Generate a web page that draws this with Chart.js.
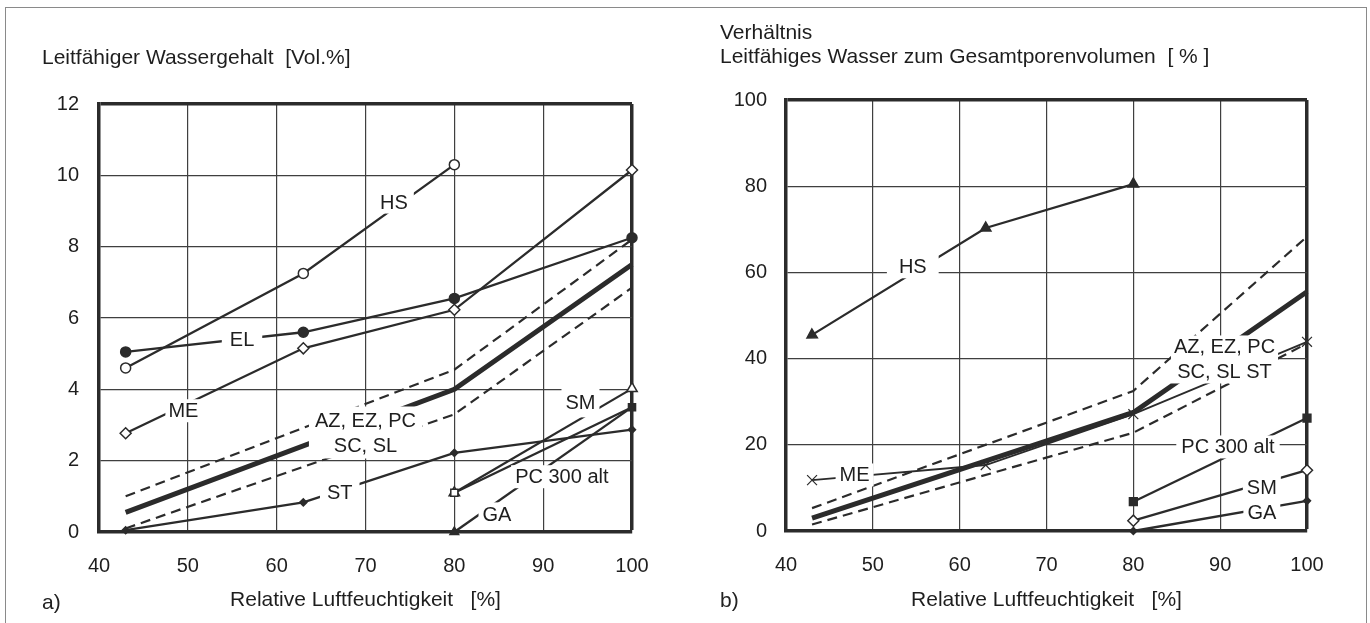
<!DOCTYPE html>
<html>
<head>
<meta charset="utf-8">
<script src="https://cdn.jsdelivr.net/npm/chart.js@4/dist/chart.umd.min.js"></script>
<style>
  html, body { margin: 0; padding: 0; background: #fff; }
  body { width: 1370px; height: 623px; position: relative; overflow: hidden;
         font-family: 'Liberation Sans', Arial, sans-serif; color: #222; }
  #frame { position: absolute; left: 5px; top: 7px; width: 1360px; height: 640px;
           border: 1px solid #8a8a8a; border-bottom: none; }
  canvas { position: absolute; top: 0; }
  .tag { position: absolute; font-size: 21px; line-height: 24px; color: #222; }
</style>
</head>
<body>
<div id="frame"></div>
<canvas id="chartA" width="685" height="623" style="left:0;width:685px;height:623px"></canvas>
<canvas id="chartB" width="685" height="623" style="left:685px;width:685px;height:623px"></canvas>
<div class="tag" style="left:42px;top:590px">a)</div>
<div class="tag" style="left:720px;top:588px">b)</div>
<script>
// ---------- data ----------
const RH_ALL  = [43, 63, 80, 100];
const RH_3    = [43, 63, 80];
const RH_BAND = [43, 80, 100];
const RH_HIGH = [80, 100];

const X_TICKS   = [40, 50, 60, 70, 80, 90, 100];
const Y_TICKS_A = [0, 2, 4, 6, 8, 10, 12];
const Y_TICKS_B = [0, 20, 40, 60, 80, 100];

// a) Leitfähiger Wassergehalt [Vol.%]
const A_HS       = [4.6, 7.25, 10.3];
const A_EL       = [5.05, 5.6, 6.55, 8.25];
const A_ME       = [2.77, 5.15, 6.23, 10.15];
const A_ST       = [0.05, 0.83, 2.22, 2.87];
const A_BAND_MID = [0.55, 4.0, 7.5];
const A_BAND_HI  = [1.0, 4.55, 8.2];
const A_BAND_LO  = [0.1, 3.3, 6.85];
const A_SM       = [1.1, 4.02];
const A_PC300    = [1.1, 3.5];
const A_GA       = [0.0, 3.5];

// b) Verhältnis leitfähiges Wasser / Gesamtporenvolumen [%]
const B_HS       = [45.5, 70.3, 80.5];
const B_ME       = [11.8, 15.3, 27.1, 43.9];
const B_BAND_MID = [3.0, 27.5, 55.5];
const B_BAND_HI  = [5.3, 32.5, 68.3];
const B_BAND_LO  = [1.5, 22.8, 43.5];
const B_PC300    = [6.8, 26.2];
const B_SM       = [2.4, 14.1];
const B_GA       = [0.0, 7.0];

// label anchors (data coordinates)
const A_LABELS = [
  { text: 'HS', x: 73.2, y: 9.25, padX: 6 },
  { text: 'EL', x: 56.1, y: 5.4, padX: 8 },
  { text: 'ME', x: 49.5, y: 3.4, padX: 3 },
  { text: 'AZ, EZ, PC\nSC, SL', x: 70.0, y: 2.79, padX: 6, padY: 3 },
  { text: 'ST', x: 67.1, y: 1.1, padX: 7 },
  { text: 'SM', x: 94.2, y: 3.62, padX: 4, padY: 4 },
  { text: 'PC 300 alt', x: 92.1, y: 1.55, padX: 4 },
  { text: 'GA', x: 84.8, y: 0.48, padX: 4, padY: 2 }
];
const B_LABELS = [
  { text: 'HS', x: 54.6, y: 61.3, padX: 12 },
  { text: 'ME', x: 47.9, y: 13.0, padX: 4 },
  { text: 'AZ, EZ, PC\nSC, SL ST', x: 90.5, y: 39.8, padX: 3, padY: 1 },
  { text: 'PC 300 alt', x: 90.9, y: 19.5, padX: 5 },
  { text: 'SM', x: 94.8, y: 10.2, padX: 4 },
  { text: 'GA', x: 94.8, y: 4.4, padX: 4 }
];

// ---------- helpers ----------
const FONT = "'Liberation Sans', Arial, sans-serif";
const INK = '#2b2b2b';
const GRID = '#3f3f3f';
const TEXT = '#1e1e1e';
Chart.defaults.font.family = FONT;
Chart.defaults.color = TEXT;

function pts(xs, ys) { return ys.map((v, i) => ({ x: xs[i], y: v })); }

function series(xs, ys, o) {
  return Object.assign({
    data: pts(xs, ys), borderColor: INK, borderWidth: 2.3, pointRadius: 0,
    pointBorderColor: INK, pointBackgroundColor: INK, pointBorderWidth: 1.5,
    clip: false, tension: 0
  }, o);
}
const dashed = (xs, ys) => series(xs, ys, { borderDash: [10, 6], borderWidth: 2.2 });
const thick  = (xs, ys) => series(xs, ys, { borderWidth: 5 });

const lineLabels = {
  id: 'lineLabels',
  afterDatasetsDraw(chart, args, opts) {
    const { ctx, scales } = chart;
    ctx.save();
    ctx.font = '20px ' + FONT;
    ctx.textAlign = 'center';
    ctx.textBaseline = 'middle';
    const lh = 25;
    for (const l of opts.items) {
      const lines = l.text.split('\n');
      const cx = scales.x.getPixelForValue(l.x);
      const cy = scales.y.getPixelForValue(l.y);
      const px = l.padX ?? 4, py = l.padY ?? 1;
      const w = Math.max(...lines.map(s => ctx.measureText(s).width)) + 2 * px;
      const h = lines.length * lh - 4 + 2 * py;
      ctx.fillStyle = '#fff';
      ctx.fillRect(cx - w / 2, cy - h / 2, w, h);
      ctx.fillStyle = TEXT;
      lines.forEach((s, i) => ctx.fillText(s, cx, cy - (lines.length - 1) * lh / 2 + i * lh + 1));
    }
    ctx.restore();
  }
};

function makeOptions(cfg) {
  return {
    responsive: false,
    animation: false,
    events: [],
    layout: { padding: cfg.padding },
    plugins: {
      legend: { display: false },
      tooltip: { enabled: false },
      title: {
        display: true, text: cfg.title, align: 'start', color: TEXT,
        font: { size: 21, family: FONT, weight: 'normal', lineHeight: 24 / 21 },
        padding: cfg.titlePadding
      },
      lineLabels: { items: cfg.labels }
    },
    scales: {
      x: {
        type: 'linear', min: 40, max: 100,
        afterBuildTicks: s => { s.ticks = X_TICKS.map(v => ({ value: v })); },
        afterFit: s => { s.height = cfg.xHeight; },
        ticks: { font: { size: 20 }, color: TEXT, padding: 22, maxRotation: 0 },
        grid: {
          drawTicks: false,
          color: c => (c.tick && c.tick.value === 100) ? INK : GRID,
          lineWidth: c => (c.tick && c.tick.value === 100) ? 3.5 : 1.2
        },
        border: { display: true, width: 3.5, color: INK },
        title: {
          display: true, text: 'Relative Luftfeuchtigkeit   [%]', color: TEXT,
          font: { size: 21, lineHeight: 24 / 21 }, padding: { top: 0, bottom: cfg.xTitlePad }
        }
      },
      y: {
        type: 'linear', min: 0, max: cfg.yMax,
        afterBuildTicks: s => { s.ticks = cfg.yTicks.map(v => ({ value: v })); },
        afterFit: s => { s.width = cfg.yWidth; },
        ticks: { font: { size: 20 }, color: TEXT, padding: cfg.yPad },
        grid: {
          drawTicks: false,
          color: c => (c.tick && c.tick.value === cfg.yMax) ? INK : GRID,
          lineWidth: c => (c.tick && c.tick.value === cfg.yMax) ? 3.5 : 1.2
        },
        border: { display: true, width: 3.5, color: INK }
      }
    }
  };
}

// ---------- chart a) ----------
new Chart(document.getElementById('chartA'), {
  type: 'line',
  data: {
    datasets: [
      dashed(RH_BAND, A_BAND_HI),
      dashed(RH_BAND, A_BAND_LO),
      thick(RH_BAND, A_BAND_MID),
      series(RH_3, A_HS, { pointStyle: 'circle', pointRadius: 5, pointBackgroundColor: '#fff' }),
      series(RH_ALL, A_EL, { pointStyle: 'circle', pointRadius: 5 }),
      series(RH_ALL, A_ME, { pointStyle: 'rectRot', pointRadius: 5.5, pointBackgroundColor: '#fff' }),
      series(RH_ALL, A_ST, { pointStyle: 'rectRot', pointRadius: 3.5 }),
      series(RH_HIGH, A_GA, { pointStyle: 'triangle', pointRadius: [5, 0] }),
      series(RH_HIGH, A_PC300, { pointStyle: 'rect', pointRadius: 5, pointBackgroundColor: ['#fff', INK] }),
      series(RH_HIGH, A_SM, { pointStyle: 'triangle', pointRadius: 6, pointBackgroundColor: '#fff' })
    ]
  },
  options: makeOptions({
    padding: { left: 42, top: 0, right: 53, bottom: 0 },
    title: 'Leitfähiger Wassergehalt  [Vol.%]',
    titlePadding: { top: 46, bottom: 34 },
    yWidth: 57, xHeight: 91, xTitlePad: 11, yPad: 20,
    yMax: 12, yTicks: Y_TICKS_A, labels: A_LABELS
  }),
  plugins: [lineLabels]
});

// ---------- chart b) ----------
new Chart(document.getElementById('chartB'), {
  type: 'line',
  data: {
    datasets: [
      dashed(RH_BAND, B_BAND_HI),
      dashed(RH_BAND, B_BAND_LO),
      thick(RH_BAND, B_BAND_MID),
      series(RH_3, B_HS, { pointStyle: 'triangle', pointRadius: 6, pointRotation: [238, 0, 0] }),
      series(RH_ALL, B_ME, { pointStyle: 'crossRot', pointRadius: 7, pointBorderWidth: 1.2, borderWidth: 1.9 }),
      series(RH_HIGH, B_GA, { pointStyle: 'rectRot', pointRadius: 3.5 }),
      series(RH_HIGH, B_SM, { pointStyle: 'rectRot', pointRadius: 5.5, pointBackgroundColor: '#fff' }),
      series(RH_HIGH, B_PC300, { pointStyle: 'rect', pointRadius: 5.5 })
    ]
  },
  options: makeOptions({
    padding: { left: 35, top: 0, right: 63, bottom: 0 },
    title: ['Verhältnis', 'Leitfähiges Wasser zum Gesamtporenvolumen  [ % ]'],
    titlePadding: { top: 21, bottom: 31 },
    yWidth: 66, xHeight: 92, xTitlePad: 11, yPad: 19,
    yMax: 100, yTicks: Y_TICKS_B, labels: B_LABELS
  }),
  plugins: [lineLabels]
});
</script>
</body>
</html>
